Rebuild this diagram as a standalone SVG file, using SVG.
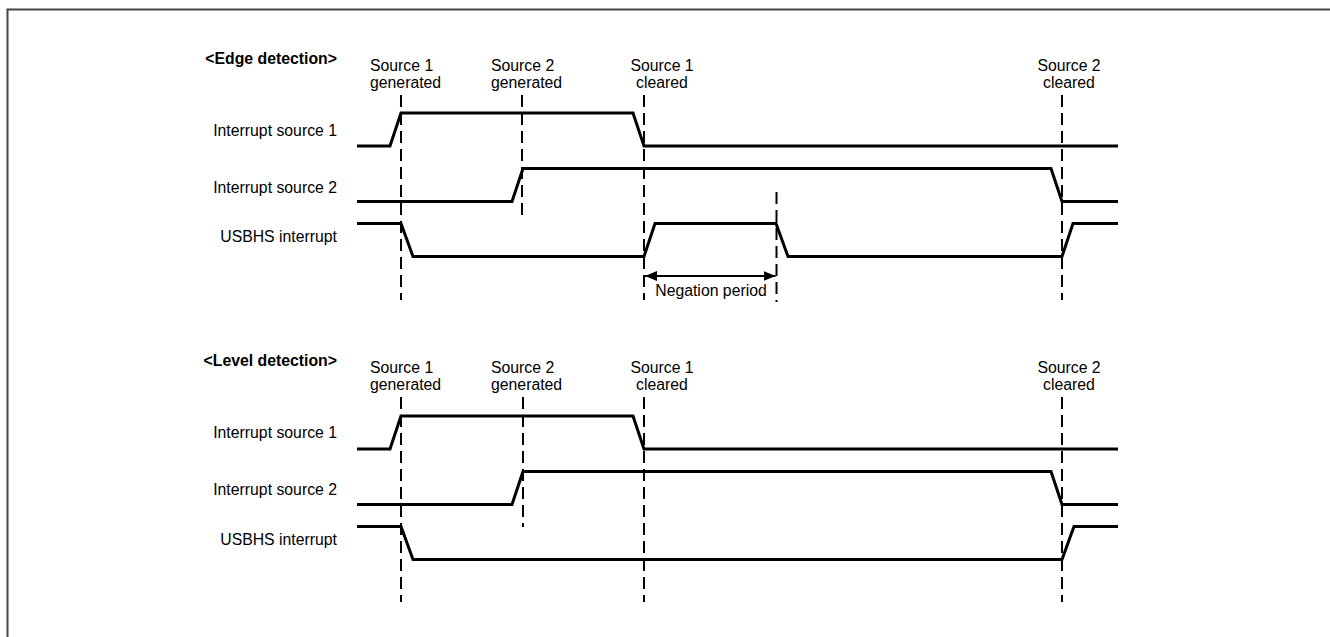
<svg xmlns="http://www.w3.org/2000/svg" width="1330" height="637" viewBox="0 0 1330 637">
<style>
text{font-family:"Liberation Sans",Arial,sans-serif;font-size:15.8px;fill:#000}
.h{font-weight:bold}
.r{text-anchor:end}
.m{text-anchor:middle}
.w{fill:none;stroke:#000;stroke-width:3;stroke-linejoin:miter}
.d{fill:none;stroke:#000;stroke-width:2;stroke-dasharray:12 6}
.a{fill:none;stroke:#000;stroke-width:2}
</style>
<defs>
<marker id="ah" viewBox="0 0 12 10" refX="12" refY="5" markerWidth="12" markerHeight="10" markerUnits="userSpaceOnUse" orient="auto-start-reverse">
<path d="M0,0 L12,5 L0,10 Z" fill="#000"/>
</marker>
</defs>
<path d="M7.5,637 L7.5,9.5 L1330,9.5" fill="none" stroke="#444" stroke-width="2"/>

<g id="edge">
<text class="h r" x="337" y="63.5">&lt;Edge detection&gt;</text>
<g id="edge-labels">
<text x="370" y="71">Source 1</text><text x="370" y="88">generated</text>
<text x="491" y="71">Source 2</text><text x="491" y="88">generated</text>
<text class="m" x="662" y="71">Source 1</text><text class="m" x="662" y="88">cleared</text>
<text class="m" x="1069" y="71">Source 2</text><text class="m" x="1069" y="88">cleared</text>
</g>
<g id="edge-src1"><text class="r" x="337" y="135.5">Interrupt source 1</text>
<polyline class="w" points="357,146 390,146 401,113 633,113 644,146 1118,146"/></g>
<g id="edge-src2"><text class="r" x="337" y="192.5">Interrupt source 2</text>
<polyline class="w" points="357,201.5 512,201.5 523,168.5 1051,168.5 1062,201.5 1118,201.5"/></g>
<g id="edge-usbhs"><text class="r" x="337" y="242">USBHS interrupt</text>
<polyline class="w" points="357,223.5 401,223.5 413,256.5 644,256.5 655,223.5 776,223.5 788,256.5 1062,256.5 1073,223.5 1118,223.5"/></g>
</g>

<g id="level">
<text class="h r" x="337" y="365.5">&lt;Level detection&gt;</text>
<g id="level-labels">
<text x="370" y="373">Source 1</text><text x="370" y="390">generated</text>
<text x="491" y="373">Source 2</text><text x="491" y="390">generated</text>
<text class="m" x="662" y="373">Source 1</text><text class="m" x="662" y="390">cleared</text>
<text class="m" x="1069" y="373">Source 2</text><text class="m" x="1069" y="390">cleared</text>
</g>
<g id="level-src1"><text class="r" x="337" y="438">Interrupt source 1</text>
<polyline class="w" points="357,449 390,449 401,416 633,416 644,449 1118,449"/></g>
<g id="level-src2"><text class="r" x="337" y="495">Interrupt source 2</text>
<polyline class="w" points="357,504.5 512,504.5 523,471.5 1051,471.5 1062,504.5 1118,504.5"/></g>
<g id="level-usbhs"><text class="r" x="337" y="544.5">USBHS interrupt</text>
<polyline class="w" points="357,526.5 401,526.5 413,559.5 1062,559.5 1074,526.5 1118,526.5"/></g>
</g>

<g id="connectors">
<line class="d" x1="401" y1="95" x2="401" y2="300"/>
<line class="d" x1="522" y1="95" x2="522" y2="216"/>
<line class="d" x1="644" y1="95" x2="644" y2="300"/>
<line class="d" x1="776.5" y1="192" x2="776.5" y2="302"/>
<line class="d" x1="1062" y1="95" x2="1062" y2="300"/>
<line class="a" x1="645" y1="276" x2="775.5" y2="276" marker-start="url(#ah)" marker-end="url(#ah)"/>
<text class="m" x="711" y="296">Negation period</text>
<line class="d" x1="401" y1="397" x2="401" y2="602"/>
<line class="d" x1="523" y1="397" x2="523" y2="527"/>
<line class="d" x1="644" y1="397" x2="644" y2="602"/>
<line class="d" x1="1062" y1="397" x2="1062" y2="602"/>
</g>
</svg>
